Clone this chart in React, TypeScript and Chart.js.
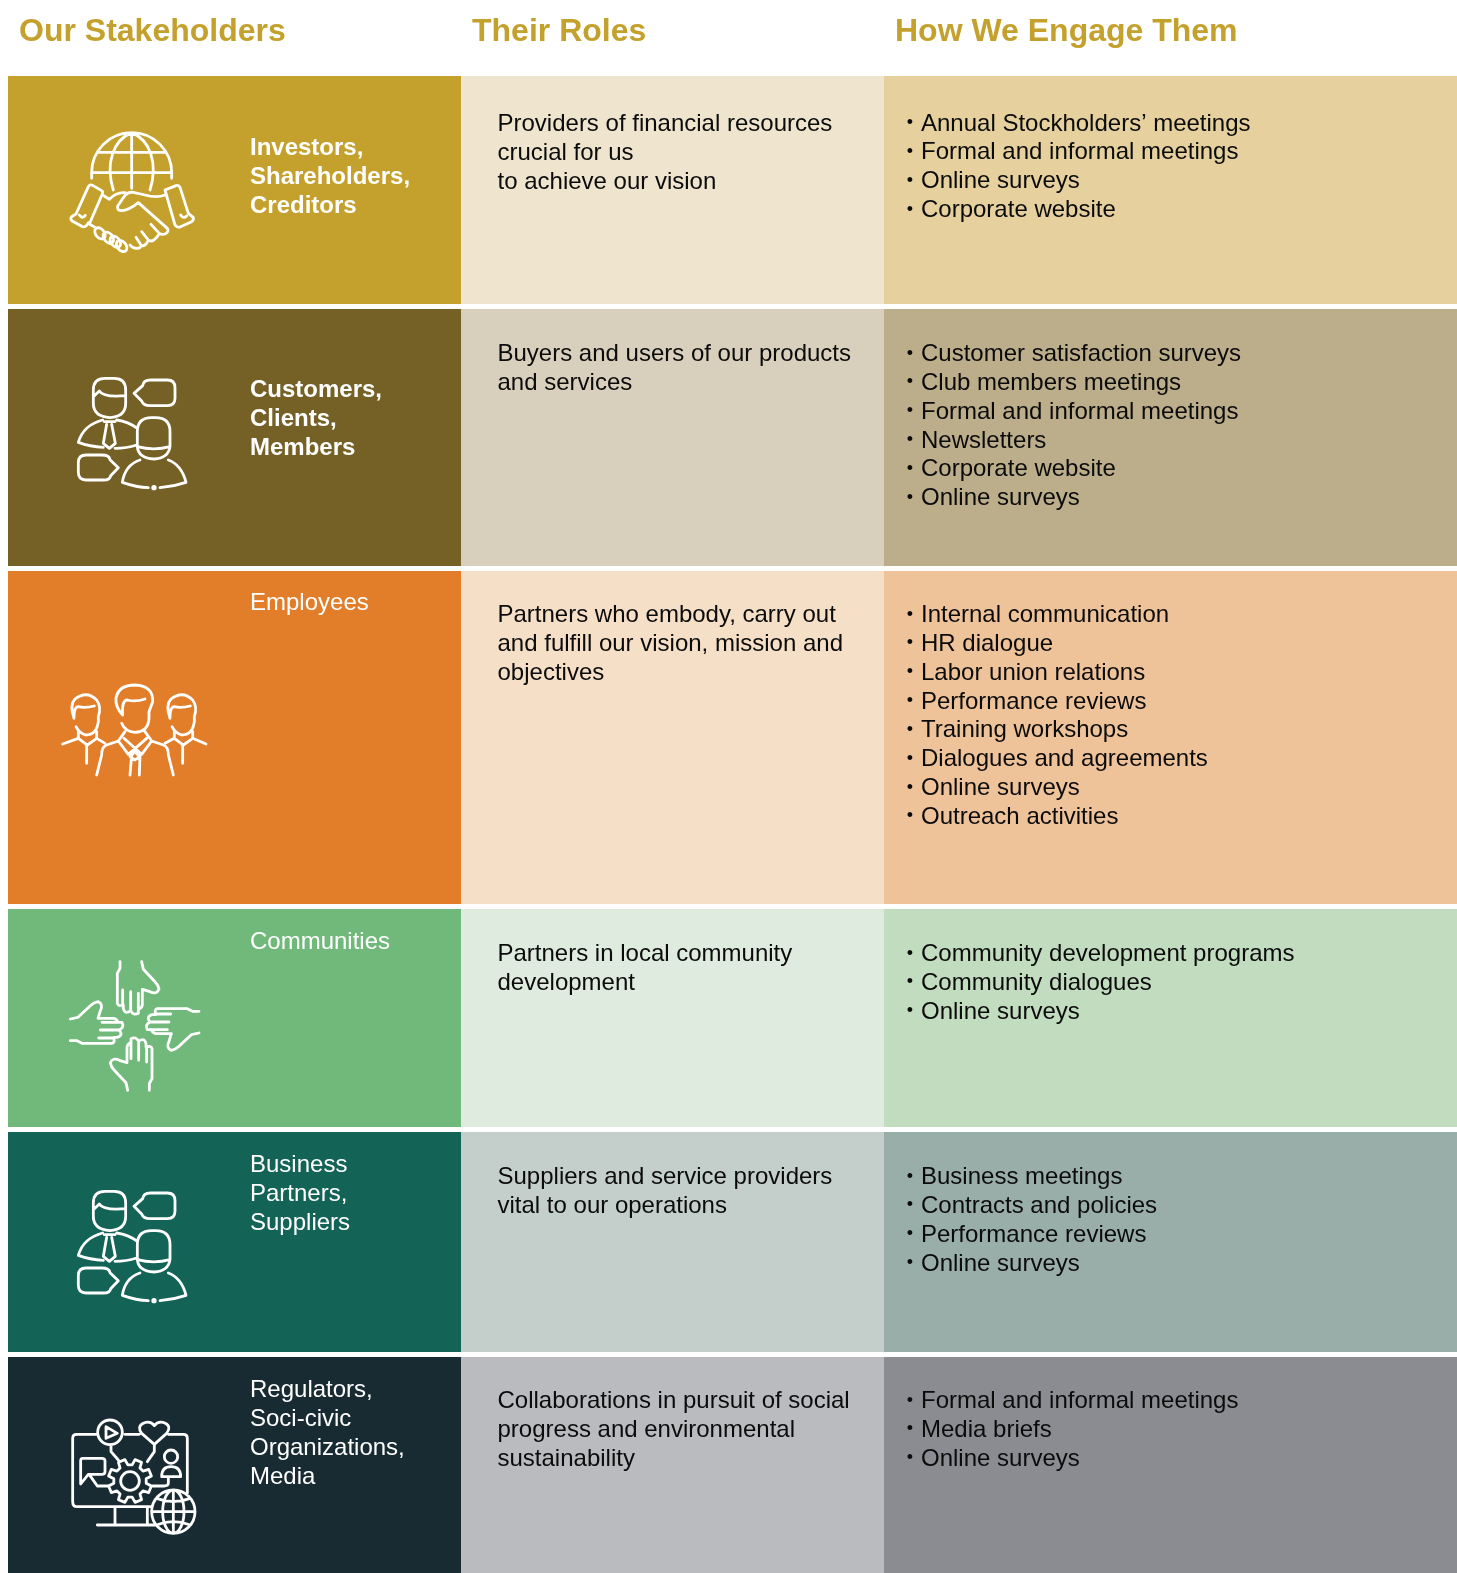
import React, { useEffect, useRef } from "react";
import { Chart, registerables } from "chart.js";

Chart.register(...registerables);

const WIDTH = 1457;
const HEIGHT = 1573;

const headers = ["Our Stakeholders", "Their Roles", "How We Engage Them"];
const stakeholders = [
  ["Investors,", "Shareholders,", "Creditors"],
  ["Customers,", "Clients,", "Members"],
  ["Employees"],
  ["Communities"],
  ["Business", "Partners,", "Suppliers"],
  ["Regulators,", "Soci-civic", "Organizations,", "Media"],
];
const stakeholderBold = [true, true, false, false, false, false];
const roles = [
  ["Providers of financial resources", "crucial for us", "to achieve our vision"],
  ["Buyers and users of our products", "and services"],
  ["Partners who embody, carry out", "and fulfill our vision, mission and", "objectives"],
  ["Partners in local community", "development"],
  ["Suppliers and service providers", "vital to our operations"],
  ["Collaborations in pursuit of social", "progress and environmental", "sustainability"],
];
const engagements = [
  ["Annual Stockholders’ meetings", "Formal and informal meetings", "Online surveys", "Corporate website"],
  ["Customer satisfaction surveys", "Club members meetings", "Formal and informal meetings", "Newsletters", "Corporate website", "Online surveys"],
  ["Internal communication", "HR dialogue", "Labor union relations", "Performance reviews", "Training workshops", "Dialogues and agreements", "Online surveys", "Outreach activities"],
  ["Community development programs", "Community dialogues", "Online surveys"],
  ["Business meetings", "Contracts and policies", "Performance reviews", "Online surveys"],
  ["Formal and informal meetings", "Media briefs", "Online surveys"],
];
const rowStart = [76, 309, 571, 909, 1132, 1357];
const rowEnd = [304, 566, 904, 1127, 1352, 1573];
const columnEdges = [8, 461, 884, 1457];
const cellColors = [
  ["#C4A12D", "#EFE5CE", "#E5D09E"],
  ["#756026", "#D8D0BC", "#BCAD8B"],
  ["#E27E2A", "#F6DFC7", "#EFC39A"],
  ["#70B97A", "#DFEBDF", "#C2DCBF"],
  ["#136357", "#C4CFCC", "#99AEA9"],
  ["#182B32", "#B9BBBF", "#8A8C91"],
];
const stakeholderBaseline = [154.5, 397, 610, 949, 1172, 1397];
const roleBaseline = [130.5, 361, 622, 961, 1184, 1408];

const GOLD = "#C4A12D";
const INK = "#0B0B0B";
const FONT = '"Liberation Sans", Arial, sans-serif';
const LINE = 29;

const datasets: any[] = [];
rowStart.forEach((top, r) => {
  cellColors[r].forEach((color, c) => {
    datasets.push({
      data: [{ x: [columnEdges[c], columnEdges[c + 1]], y: (top + rowEnd[r]) / 2 }],
      backgroundColor: color,
      borderWidth: 0,
      inflateAmount: 0,
      grouped: false,
      barThickness: rowEnd[r] - top,
    });
  });
});

function stroke(ctx: CanvasRenderingContext2D, ox: number, oy: number, d: string, dot?: [number, number, number]) {
  ctx.save();
  ctx.translate(ox, oy);
  ctx.scale(1 / 3, 1 / 3);
  ctx.strokeStyle = "#FFFFFF";
  ctx.fillStyle = "#FFFFFF";
  ctx.lineWidth = 8.4;
  ctx.lineCap = "round";
  ctx.lineJoin = "round";
  ctx.stroke(new Path2D(d));
  if (dot) {
    ctx.beginPath();
    ctx.arc(dot[0], dot[1], dot[2], 0, Math.PI * 2);
    ctx.fill();
  }
  ctx.restore();
}

function circle(cx: number, cy: number, r: number) {
  return `M${cx - r} ${cy} A${r} ${r} 0 1 1 ${cx + r} ${cy} A${r} ${r} 0 1 1 ${cx - r} ${cy} Z `;
}
function tilted(cx: number, cy: number, rx: number, ry: number, deg: number) {
  const a = (deg * Math.PI) / 180;
  const dx = rx * Math.cos(a);
  const dy = rx * Math.sin(a);
  return `M${cx - dx} ${cy - dy} A${rx} ${ry} ${deg} 1 1 ${cx + dx} ${cy + dy} A${rx} ${ry} ${deg} 1 1 ${cx - dx} ${cy - dy} Z `;
}

const handshake =
  "M125 175 V158 A120 120 0 0 1 365 158 V175 M125 158 H365 M148 97 H342 M245 38 V205 " +
  "M245 38 C190 60 165 130 190 210 M245 38 C300 60 325 130 300 210 " +
  "M78 282 L115 200 Q120 192 128 196 L155 212 Q160 216 157 222 L118 312 " +
  "M78 282 L65 290 Q60 296 65 302 L98 320 Q105 322 110 316 L115 308 M88 285 Q97 298 106 286 " +
  "M345 210 L378 197 Q386 194 390 202 L415 280 M345 210 L375 315 M415 280 L430 293 Q432 300 425 305 L388 322 Q380 322 375 315 M392 285 Q400 298 410 288 " +
  "M163 228 L178 238 Q200 215 226 218 " +
  "M345 225 Q320 235 285 225 L250 217 Q232 215 222 230 L203 258 Q200 272 215 272 Q235 272 265 248 L352 325 Q358 335 345 342 Q335 345 328 340 L303 313 " +
  "M328 340 Q322 352 312 360 Q302 366 295 360 L275 335 M295 360 Q288 378 275 378 L258 352 M270 383 Q252 390 240 375 " +
  "M118 312 L135 322 " +
  tilted(150, 340, 19, 13, 50) + tilted(175, 353, 19, 13, 50) + tilted(196, 365, 19, 13, 50) + tilted(215, 378, 19, 13, 50);

const talkers =
  "M100 105 V75 Q100 40 135 40 H162 Q197 40 197 75 V115 Q197 155 150 158 Q100 155 100 115 Z M100 95 L118 78 Q130 98 197 92 " +
  "M128 165 Q70 180 55 232 Q90 245 130 247 M170 165 Q205 170 232 190 M165 250 Q200 250 230 240 " +
  "M133 170 H165 M140 178 L130 235 L148 250 L166 235 L155 178 " +
  "M222 85 L248 62 Q250 45 272 45 H322 Q345 45 345 68 V100 Q345 122 322 122 H270 Q250 122 245 108 Z " +
  "M232 200 Q232 158 275 158 H287 Q330 158 330 200 V245 Q325 280 282 282 Q235 280 232 245 Z M232 245 Q282 258 330 245 " +
  "M240 285 Q195 300 187 352 Q230 367 265 368 M300 368 Q340 365 378 352 Q365 300 325 285 " +
  "M175 308 L150 284 Q148 270 125 270 H78 Q55 270 55 293 V322 Q55 345 78 345 H130 Q150 345 152 332 Z";

const sideEmployee =
  "M72 130 Q58 90 75 72 Q110 45 140 75 Q155 95 145 125 V140 Q140 180 107 180 Q88 175 78 155 M72 130 Q72 95 85 95 Q105 100 133 93 " +
  "M85 170 V190 L112 210 L140 190 V170 M110 210 V265";

const employeeArms = "M38 207 L85 190 M140 190 L165 205 M345 205 L373 190 M428 190 L468 207";

const centreEmployee =
  "M218 120 Q195 95 198 70 Q205 30 255 30 Q310 32 308 80 L297 110 V130 Q295 170 255 172 Q225 170 215 145 M218 120 Q215 75 232 75 Q255 82 285 72 " +
  "M225 170 L205 198 L235 238 L290 190 M285 170 L305 198 L275 238 L222 190 " +
  "M245 240 L240 300 M270 240 L268 300 M255 230 L268 245 L255 255 L240 245 Z " +
  "M205 198 L170 210 Q155 215 155 240 L140 300 M305 198 L340 210 Q355 215 355 240 L370 300";

const topHand =
  "M180 35 V55 L172 70 V160 Q175 170 188 165 V120 M190 165 V175 Q195 195 212 182 V125 M212 182 Q220 198 235 190 V130 M235 178 Q245 175 247 165 V118 L270 125 Q290 135 297 118 Q295 105 285 95 L250 58 L245 35";

function gear(cx: number, cy: number) {
  let d = "";
  const teeth = 8;
  for (let i = 0; i < teeth; i++) {
    const a = (i / teeth) * Math.PI * 2 - Math.PI / 8;
    const pts = [
      [49, a - 0.26],
      [66, a - 0.16],
      [66, a + 0.16],
      [49, a + 0.26],
    ];
    pts.forEach(([r, t], k) => {
      d += `${i === 0 && k === 0 ? "M" : "L"}${cx + r * Math.cos(t)} ${cy + r * Math.sin(t)} `;
    });
  }
  return d + "Z " + circle(cx, cy, 28);
}

const media =
  "M112 88 H50 Q38 88 38 100 V290 Q38 305 52 305 H270 M195 88 H238 M325 88 H370 Q382 88 382 100 V265 " +
  circle(150, 82, 37) + "M138 65 L172 85 L138 100 Z " +
  "M283 118 L245 85 Q230 65 250 55 Q270 45 283 62 Q296 45 316 55 Q335 65 320 85 Z " +
  "M153 122 V140 L175 165 M283 120 V140 L262 170 " +
  gear(210, 228) +
  "M68 160 H125 Q135 160 135 168 V200 Q135 208 125 208 H85 L62 237 V168 Q62 160 68 160 Z M90 212 L112 243 H145 " +
  circle(333, 155, 20) + "M305 215 Q305 185 333 185 Q362 185 362 215 Z M325 218 V235 Q325 243 312 243 H272 " +
  "M165 305 V360 M262 305 V360 M112 360 H285 " +
  circle(340, 320, 65) + tilted(340, 320, 65, 32, 90) + "M340 255 V385 M275 320 H405 M290 280 Q340 300 390 280 M290 360 Q340 340 390 360";

const tablePlugin = {
  id: "tableText",
  afterDatasetsDraw(chart: any) {
    const { ctx, scales } = chart;
    const px = (v: number) => scales.x.getPixelForValue(v);
    const py = (v: number) => scales.y.getPixelForValue(v);
    ctx.save();
    ctx.textBaseline = "alphabetic";
    ctx.textAlign = "left";

    ctx.fillStyle = GOLD;
    ctx.font = `bold 32px ${FONT}`;
    headers.forEach((h, i) => ctx.fillText(h, px([19, 472, 895][i]), py(41)));

    stakeholders.forEach((lines, r) => {
      ctx.fillStyle = "#FFFFFF";
      ctx.font = `${stakeholderBold[r] ? "bold " : ""}24px ${FONT}`;
      lines.forEach((l, i) => ctx.fillText(l, px(250), py(stakeholderBaseline[r] + i * LINE)));
    });
    ctx.fillStyle = INK;
    ctx.font = `24px ${FONT}`;
    roles.forEach((lines, r) => {
      lines.forEach((l, i) => ctx.fillText(l, px(497.5), py(roleBaseline[r] + i * LINE)));
    });
    engagements.forEach((lines, r) => {
      lines.forEach((l, i) => {
        const y = roleBaseline[r] + i * 28.85;
        ctx.font = `18px ${FONT}`;
        ctx.fillText("•", px(906.8), py(y - 2.5));
        ctx.font = `24px ${FONT}`;
        ctx.fillText(l, px(921), py(y));
      });
    });
    ctx.restore();

    stroke(ctx, 50, 120, handshake);
    stroke(ctx, 60, 365, talkers, [282, 368, 8]);
    stroke(ctx, 50, 675, centreEmployee);
    stroke(ctx, 50, 675, sideEmployee);
    stroke(ctx, 50 + 96, 675, sideEmployee);
    stroke(ctx, 50, 675, employeeArms);
    for (let k = 0; k < 4; k++) {
      ctx.save();
      const cx = 60 + 224 / 3;
      const cy = 950 + 228 / 3;
      ctx.translate(cx, cy);
      ctx.rotate((k * Math.PI) / 2);
      stroke(ctx, -224 / 3, -228 / 3, topHand);
      ctx.restore();
    }
    stroke(ctx, 60, 1178, talkers, [282, 368, 8]);
    stroke(ctx, 60, 1405, media);
  },
};

export default function App() {
  const ref = useRef<HTMLCanvasElement>(null);
  useEffect(() => {
    const chart = new Chart(ref.current as HTMLCanvasElement, {
      type: "bar",
      data: { labels: ["cell"], datasets },
      options: {
        indexAxis: "y",
        animation: false,
        responsive: false,
        layout: { padding: 0 },
        plugins: { legend: { display: false }, tooltip: { enabled: false } },
        scales: {
          x: { type: "linear", min: 0, max: WIDTH, display: false, offset: false },
          y: { type: "linear", min: 0, max: HEIGHT, reverse: true, display: false, offset: false },
        },
      },
      plugins: [tablePlugin],
    } as any);
    return () => chart.destroy();
  }, []);
  return (
    <div style={{ position: "absolute", left: 0, top: 0, width: WIDTH, height: HEIGHT, overflow: "hidden" }}>
      <canvas ref={ref} width={WIDTH} height={HEIGHT} style={{ display: "block" }} />
    </div>
  );
}
